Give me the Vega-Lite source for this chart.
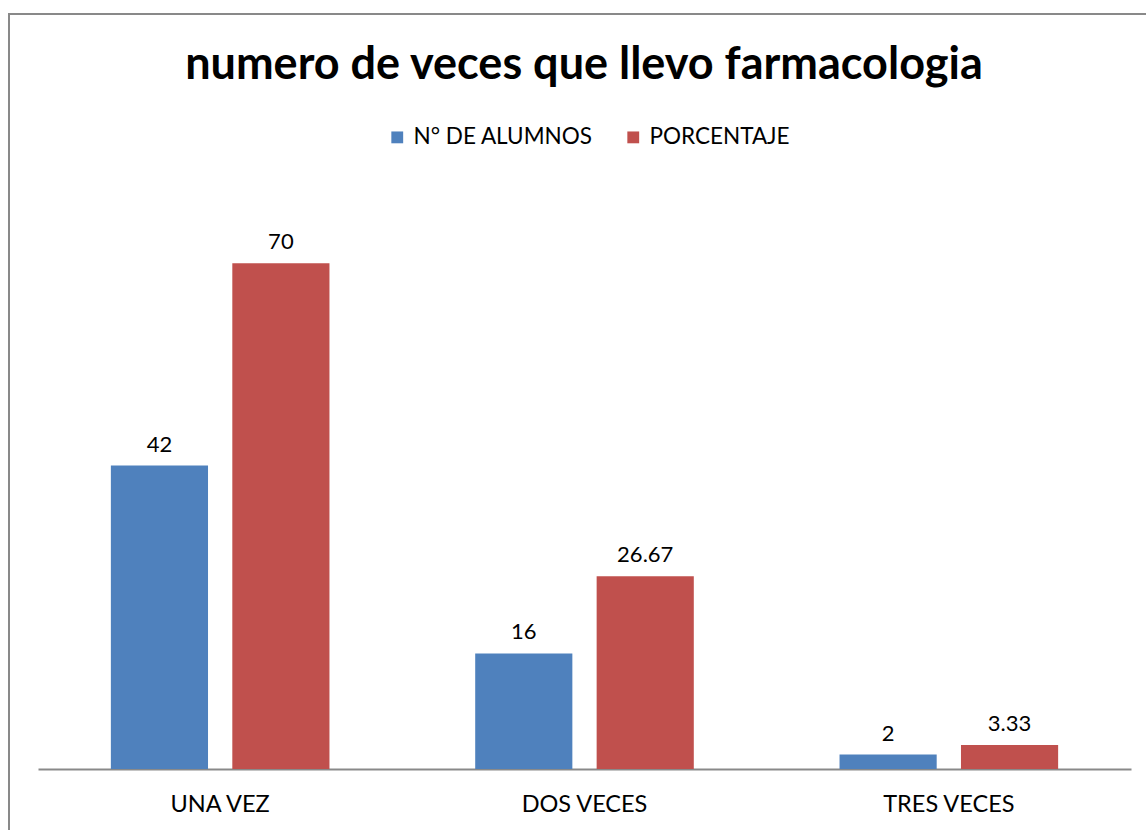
{
  "$schema": "https://vega.github.io/schema/vega-lite/v6.json",
  "autosize": {"type": "none"},
  "width": 1150,
  "height": 830,
  "padding": {"left": 9, "top": 14, "right": 0, "bottom": 0},
  "background": "white",
  "title": {
    "text": "numero de veces que llevo farmacologia",
    "font": "Lato",
    "fontSize": 45,
    "fontWeight": "bold",
    "color": "black",
    "anchor": "middle",
    "frame": "group",
    "orient": "top",
    "baseline": "alphabetic",
    "offset": -110
  },
  "data": {
    "values": [
      {"categoria": "UNA VEZ", "serie": "N° DE ALUMNOS", "valor": 42, "etiqueta": "42"},
      {"categoria": "UNA VEZ", "serie": "PORCENTAJE", "valor": 70, "etiqueta": "70"},
      {"categoria": "DOS VECES", "serie": "N° DE ALUMNOS", "valor": 16, "etiqueta": "16"},
      {"categoria": "DOS VECES", "serie": "PORCENTAJE", "valor": 26.67, "etiqueta": "26.67"},
      {"categoria": "TRES VECES", "serie": "N° DE ALUMNOS", "valor": 2, "etiqueta": "2"},
      {"categoria": "TRES VECES", "serie": "PORCENTAJE", "valor": 3.33, "etiqueta": "3.33"}
    ]
  },
  "encoding": {
    "x": {
      "field": "categoria",
      "type": "nominal",
      "sort": ["UNA VEZ", "DOS VECES", "TRES VECES"],
      "scale": {"range": [29, 1122], "paddingInner": 0.4, "paddingOuter": 0.2},
      "axis": {
        "title": null,
        "orient": "bottom",
        "offset": -75,
        "ticks": false,
        "grid": false,
        "domainColor": "#898989",
        "domainWidth": 2,
        "labelAngle": 0,
        "labelFont": "Lato",
        "labelFontSize": 23.5,
        "labelColor": "black",
        "labelPadding": 23
      }
    },
    "xOffset": {
      "field": "serie",
      "type": "nominal",
      "sort": ["N° DE ALUMNOS", "PORCENTAJE"],
      "scale": {"paddingInner": 0.2, "paddingOuter": 0}
    },
    "y": {
      "field": "valor",
      "type": "quantitative",
      "scale": {"domain": [0, 80], "range": [755, 177], "nice": false, "zero": true},
      "axis": null
    }
  },
  "layer": [
    {
      "mark": {"type": "bar"},
      "encoding": {
        "color": {
          "field": "serie",
          "type": "nominal",
          "scale": {"domain": ["N° DE ALUMNOS", "PORCENTAJE"], "range": ["#4F81BD", "#C0504D"]},
          "legend": {
            "title": null,
            "orient": "none",
            "legendX": 377,
            "legendY": 112,
            "direction": "horizontal",
            "symbolType": "square",
            "symbolSize": 140,
            "symbolStrokeWidth": 0,
            "symbolOpacity": 1,
            "labelFont": "Lato",
            "labelFontSize": 22.5,
            "labelColor": "black",
            "labelOffset": 5,
            "columnPadding": 29,
            "labelLimit": 400
          }
        }
      }
    },
    {
      "mark": {"type": "text", "baseline": "alphabetic", "dy": -14, "font": "Lato", "fontSize": 22, "color": "black"},
      "encoding": {
        "text": {"field": "etiqueta", "type": "nominal"}
      }
    }
  ],
  "config": {
    "view": {"stroke": "#898989", "strokeWidth": 2}
  }
}
